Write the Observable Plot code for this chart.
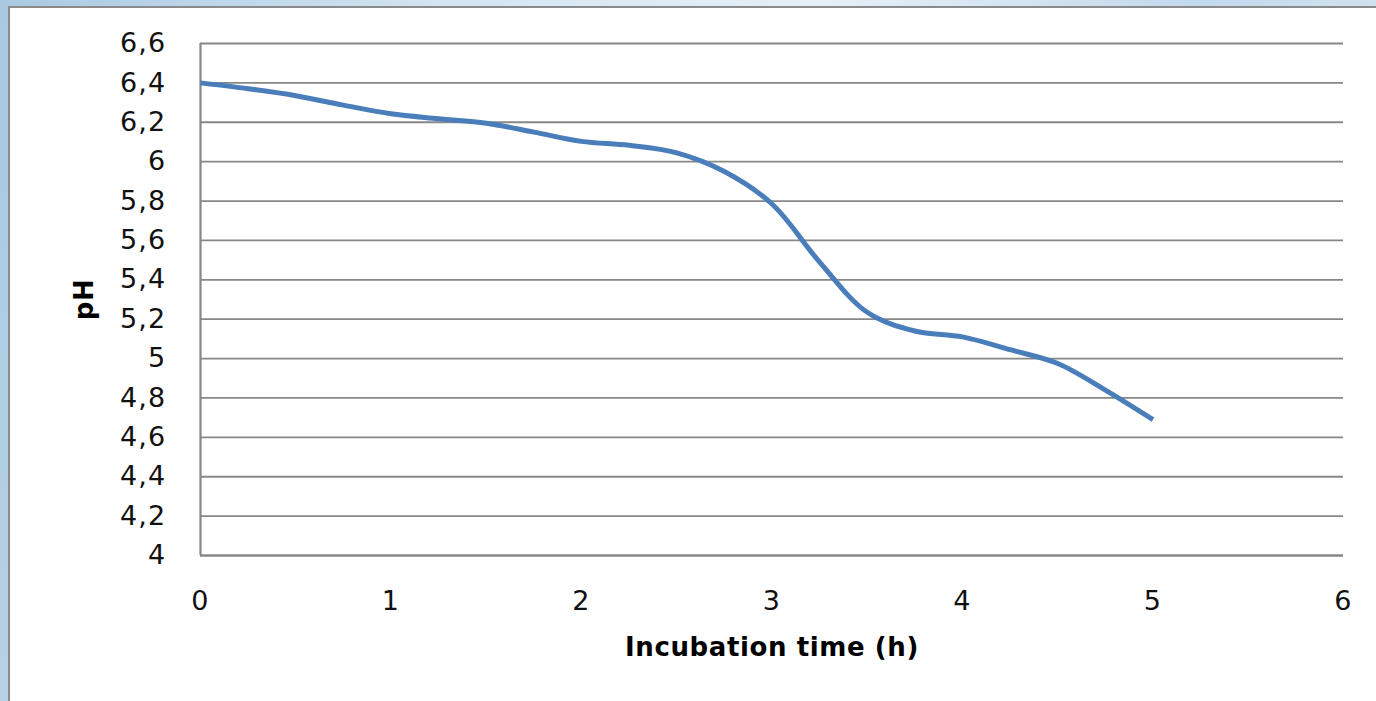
<!DOCTYPE html>
<html>
<head>
<meta charset="utf-8">
<script src="https://cdn.jsdelivr.net/npm/d3@7"></script>
<script src="https://cdn.jsdelivr.net/npm/@observablehq/plot@0.6"></script>
<style>
  html, body { margin: 0; padding: 0; width: 1376px; height: 701px; overflow: hidden; }
  body {
    background: linear-gradient(100deg, #a9c9e1 0%, #d3e5f2 30%, #e6f0f8 55%, #c2d9ec 80%, #d8e8f3 100%);
    position: relative;
    font-family: "DejaVu Sans", sans-serif;
  }
  #panel {
    position: absolute; left: 8px; top: 6px; width: 1400px; height: 720px;
    background: #ffffff; border-left: 2px solid #8a8a8a; border-top: 2px solid #8a8a8a;
  }
  #chart { position: absolute; left: 0; top: 0; }
  #chart svg { background: transparent; }
  #chart g[aria-label="y-axis tick label"] text,
  #chart g[aria-label="x-axis tick label"] text { font-size: 27px; letter-spacing: 1.2px; fill: #111; }
  #chart g[aria-label="x-axis label"] text,
  #chart g[aria-label="y-axis label"] text { font-size: 26px; font-weight: bold; letter-spacing: 0.6px; fill: #000; }
</style>
</head>
<body>
<div id="panel"></div>
<div id="chart"></div>
<script>
// Incubation time (h)
const timeH = [0, 0.25, 0.5, 0.75, 1.0, 1.25, 1.5, 1.75, 2.0, 2.25, 2.5, 2.75, 3.0, 3.25, 3.5, 3.75, 4.0, 4.25, 4.5, 4.75, 5.0];
// pH values
const phValues = [6.40, 6.37, 6.335, 6.287, 6.243, 6.218, 6.195, 6.15, 6.103, 6.083, 6.045, 5.95, 5.785, 5.49, 5.235, 5.14, 5.11, 5.045, 4.975, 4.84, 4.69];
// Axis ticks
const xTicks = [0, 1, 2, 3, 4, 5, 6];
const yTicks = [4, 4.2, 4.4, 4.6, 4.8, 5, 5.2, 5.4, 5.6, 5.8, 6, 6.2, 6.4, 6.6];
const xTitle = "Incubation time (h)";
const yTitle = "pH";

const data = timeH.map((t, i) => ({t, ph: phValues[i]}));
const fmt = d => String(+d.toFixed(1)).replace(".", ",");

const chart = Plot.plot({
  width: 1376,
  height: 701,
  marginLeft: 200,
  marginRight: 33,
  marginTop: 43,
  marginBottom: 146,
  style: {background: "transparent", fontFamily: "DejaVu Sans, sans-serif", color: "#111"},
  x: {domain: [0, 6]},
  y: {domain: [4, 6.6]},
  marks: [
    Plot.gridY(yTicks, {stroke: "#878787", strokeOpacity: 1, strokeWidth: 1.8}),
    Plot.ruleX([0], {stroke: "#878787", strokeWidth: 2.2}),
    Plot.ruleY([4], {stroke: "#878787", strokeWidth: 2}),
    Plot.axisY(yTicks, {
      tickSize: 0, tickPadding: 34, fontSize: 27, tickFormat: fmt,
      label: yTitle, labelAnchor: "center", labelOffset: 126, labelArrow: "none"
    }),
    Plot.axisX(xTicks, {
      tickSize: 0, tickPadding: 35, fontSize: 27, tickFormat: d => String(d),
      label: xTitle, labelAnchor: "center", labelOffset: 100, labelArrow: "none"
    }),
    Plot.line(data, {x: "t", y: "ph", stroke: "#4a7ebb", strokeWidth: 5, curve: "catmull-rom", strokeLinecap: "butt"})
  ]
});
document.getElementById("chart").appendChild(chart);
</script>
</body>
</html>
